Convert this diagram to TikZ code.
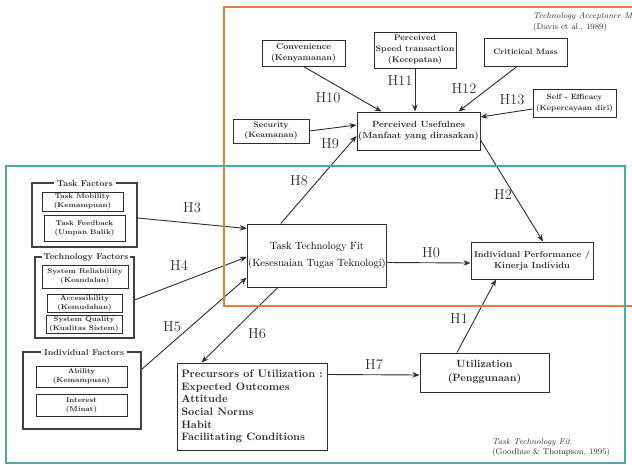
\documentclass[tikz,border=0pt]{standalone}
\usetikzlibrary{arrows.meta}

\definecolor{tamorange}{RGB}{237,125,49}
\definecolor{ttfteal}{RGB}{75,168,172}
\definecolor{linegray}{RGB}{45,45,45}

\begin{document}
\begin{tikzpicture}[x=1pt,y=-1pt,
  box/.style={draw=linegray,line width=1pt,align=center,inner sep=1pt,text=linegray,
    font=\fontsize{8.5}{10.7}\selectfont\bfseries},
  subbox/.style={box,font=\fontsize{7}{9}\selectfont\bfseries},
  group/.style={draw=linegray!90,line width=1.1pt},
  grouptitle/.style={fill=white,inner sep=3pt,text=linegray,font=\fontsize{8.5}{10}\selectfont\bfseries},
  hyp/.style={text=linegray,inner sep=0pt,font=\fontsize{14.5}{16}\selectfont},
  arr/.style={draw=linegray,line width=0.9pt,-{Stealth[length=7pt,width=5.5pt]}},
  cite/.style={align=left,anchor=west,inner sep=0pt,text=linegray,font=\fontsize{8.3}{10.5}\selectfont\itshape}]

\useasboundingbox (0,0) rectangle (632,464);
\clip (0,0) rectangle (632,464);

% TAM side
\node[box,minimum width=83pt,minimum height=26pt] (conv) at (303.5,53) {Convenience\\(Kenyamanan)};
\node[box,minimum width=82pt,minimum height=36pt,font=\fontsize{8.2}{11}\selectfont\bfseries] (speed) at (415,50) {Perceived\\Speed transaction\\(Kecepatan)};
\node[box,minimum width=83pt,minimum height=28pt,font=\fontsize{8}{10}\selectfont\bfseries] (mass) at (525.5,52) {Criticical Mass};
\node[box,minimum width=83pt,minimum height=28pt,font=\fontsize{7.6}{11}\selectfont\bfseries] (self) at (574.5,103) {Self - Efficacy\\(Kepercayaan diri)};
\node[box,minimum width=76pt,minimum height=24pt,font=\fontsize{8}{10}\selectfont\bfseries] (secu) at (271,131) {Security\\(Keamanan)};
\node[box,minimum width=123pt,minimum height=38pt,font=\fontsize{9}{11}\selectfont\bfseries] (pu) at (418.5,131) {Perceived Usefulnes\\(Manfaat yang dirasakan)};

% TTF side
\node[box,minimum width=136pt,minimum height=63pt,text=black,font=\fontsize{10.5}{17}\selectfont] (ttf) at (317,255.5) {Task Technology Fit\\(Kesesuaian Tugas Teknologi)};
\node[box,minimum width=122pt,minimum height=37pt,font=\fontsize{8.8}{11}\selectfont\bfseries] (ip) at (532,260.5) {Individual Performance /\\Kinerja Individu};
\node[box,minimum width=129pt,minimum height=39pt,font=\fontsize{10.5}{14}\selectfont\bfseries] (util) at (484.5,372.5) {Utilization\\(Penggunaan)};
\node[box,minimum width=150pt,minimum height=87pt,align=left,font=\fontsize{10.8}{12.7}\selectfont\bfseries] (prec) at (252,406.5)
  {Precursors of Utilization :\\Expected Outcomes\\Attitude\\Social Norms\\Habit\\Facilitating Conditions};

% factor groups
\node[group,minimum width=105pt,minimum height=64pt] (taskg) at (84.5,215) {};
\node[grouptitle] (tasktitle) at (85,184) {Task Factors};
\node[subbox,minimum width=81pt,minimum height=19pt] (tmob) at (82.5,201.5) {Task Mobility\\(Kemampuan)};
\node[subbox,minimum width=81pt,minimum height=26pt] (tfeed) at (84.5,228) {Task Feedback\\(Umpan Balik)};

\node[group,minimum width=99pt,minimum height=81pt] (techg) at (84.5,297.5) {};
\node[grouptitle,inner sep=1.5pt] (techtitle) at (86,257) {Technology Factors};
\node[subbox,minimum width=86pt,minimum height=23pt] (sysrel) at (85,276.5) {System Reliabiility\\(Keandalan)};
\node[subbox,minimum width=75pt,minimum height=18pt] (access) at (84.5,303) {Accessibility\\(Kemudahan)};
\node[subbox,minimum width=76pt,minimum height=18pt] (sysq) at (84,324) {System Quality\\(Kualitas Sistem)};

\node[group,minimum width=118pt,minimum height=77pt] (indg) at (82,390.5) {};
\node[grouptitle] (indtitle) at (84,353) {Individual Factors};
\node[subbox,minimum width=91pt,minimum height=21pt] (abil) at (81.5,376.5) {Ability\\(Kemampuan)};
\node[subbox,minimum width=91pt,minimum height=22pt] (intr) at (81.5,405) {Interest\\(Minat)};

% hypotheses
\draw[arr] (conv.south) -- ([xshift=25pt]pu.north west);
\draw[arr] (speed.south) -- (speed.south |- pu.north);
\draw[arr] ([xshift=-8.5pt]mass.south) -- ([xshift=-22pt]pu.north east);
\draw[arr] ([yshift=-6pt]self.west) -- ([yshift=14pt]pu.east);
\draw[arr] (secu.east) -- ([yshift=6pt]pu.west);
\draw[arr] ([xshift=34pt]ttf.north west) -- ([yshift=-5pt]pu.west);
\draw[arr] ([yshift=-9pt]pu.east) -- ([xshift=11pt]ip.north);
\draw[arr] ([yshift=-7pt]ttf.east) -- ([yshift=-2.5pt]ip.west);
\draw[arr] ([xshift=-27.5pt]util.north) -- ([xshift=-36pt]ip.south);
\draw[arr] ([yshift=-3pt]taskg.east) -- ([yshift=-5pt]ttf.north west);
\draw[arr] ([yshift=-2.5pt]techg.east) -- ([yshift=-1.5pt]ttf.west);
\draw[arr] ([yshift=-18pt]indg.north east) -- ([yshift=10pt]ttf.south west);
\draw[arr] ([xshift=31pt]ttf.south west) -- ([xshift=25pt]prec.north west);
\draw[arr] ([yshift=-12pt]prec.north east) -- ([yshift=-2.5pt]util.west);

\node[hyp] (h0) at (431,253) {H0};
\node[hyp] (h1) at (459,319) {H1};
\node[hyp] (h2) at (503,195) {H2};
\node[hyp] (h3) at (192,208) {H3};
\node[hyp] (h4) at (179,266) {H4};
\node[hyp] (h5) at (172,327) {H5};
\node[hyp] (h6) at (257,334) {H6};
\node[hyp] (h7) at (374,365) {H7};
\node[hyp] (h8) at (299,181) {H8};
\node[hyp] (h9) at (330,144) {H9};
\node[hyp] (h10) at (328,98) {H10};
\node[hyp] (h11) at (400,81) {H11};
\node[hyp] (h12) at (464,89) {H12};
\node[hyp] (h13) at (512,100) {H13};

% model frames and sources
\draw[tamorange,line width=1.8pt] (224,7) rectangle (660,306);
\draw[ttfteal,line width=1.8pt] (6,166) rectangle (625,463);
\node[cite] (tamsrc) at (533,22) {Technology Acceptance Model\\\upshape(Davis et al., 1989)};
\node[cite] (ttfsrc) at (492,447.5) {Task Technology Fit\\\upshape(Goodhue \& Thompson, 1995)};

\end{tikzpicture}
\end{document}
